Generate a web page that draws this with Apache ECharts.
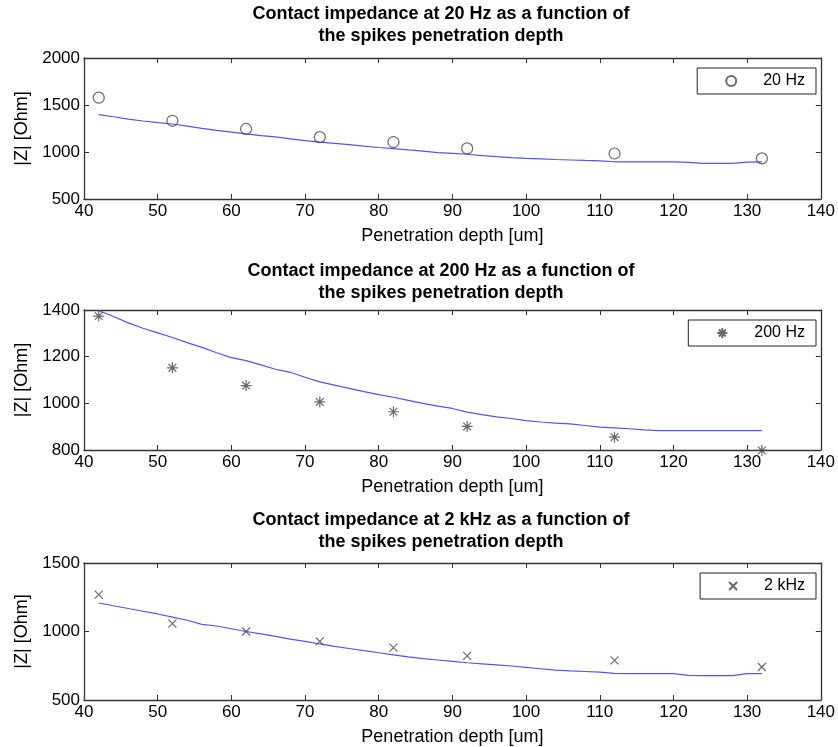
<!DOCTYPE html>
<html>
<head>
<meta charset="utf-8">
<script src="https://cdn.jsdelivr.net/npm/echarts@6/dist/echarts.min.js"></script>
<style>
html, body { margin: 0; padding: 0; background: #fff; }
#main { width: 838px; height: 747px; }
</style>
</head>
<body>
<div id="main"></div>
<script>
// measured depths (markers)
var depth = [42, 52, 62, 72, 82, 92, 112, 132];
var meas20 = [1578, 1332, 1245, 1158, 1106, 1038, 984, 932];
var meas200 = [1374, 1152, 1076, 1006, 964, 901, 855, 798];
var meas2k = [1269, 1057, 1000, 928, 882, 822, 789, 741];

// model curves (blue lines), read every 2 um
var fitDepth = [42, 44, 46, 48, 50, 52, 54, 56, 58, 60, 62, 64, 66, 68, 70, 72, 74, 76, 78, 80, 82, 84, 86, 88, 90,
  92, 94, 96, 98, 100, 102, 104, 106, 108, 110, 112, 114, 116, 118, 120, 122, 124, 126, 128, 130, 132];
var fit20 = [1398, 1375, 1350, 1330, 1312, 1298, 1275, 1252, 1230, 1212, 1193, 1175, 1160, 1140, 1122, 1105, 1092, 1078,
  1062, 1048, 1035, 1022, 1010, 994, 985, 976, 962, 950, 940, 932, 926, 920, 915, 910, 906, 896, 895, 895, 895, 895,
  890, 878, 878, 878, 893, 895];
var fit200 = [1398, 1372, 1345, 1322, 1302, 1282, 1260, 1240, 1217, 1196, 1183, 1165, 1146, 1133, 1112, 1092, 1078, 1064,
  1050, 1037, 1026, 1013, 1000, 988, 978, 962, 952, 942, 935, 926, 920, 915, 912, 905, 898, 895, 891, 886, 883, 883,
  883, 883, 883, 883, 883, 883];
var fit2k = [1208, 1188, 1168, 1148, 1128, 1105, 1082, 1052, 1040, 1020, 1000, 982, 964, 945, 928, 909, 892, 876,
  860, 845, 830, 815, 802, 792, 782, 772, 764, 756, 748, 738, 728, 718, 712, 708, 703, 695, 693, 693, 693, 693,
  680, 678, 678, 678, 692, 693];

var titles = [
  'Contact impedance at 20 Hz as a function of\nthe spikes penetration depth',
  'Contact impedance at 200 Hz as a function of\nthe spikes penetration depth',
  'Contact impedance at 2 kHz as a function of\nthe spikes penetration depth'
];
var names = ['20 Hz', '200 Hz', '2 kHz'];
var yMin = [500, 800, 500];
var yMax = [2000, 1400, 1500];
var yStep = [500, 200, 500];

var FONT = '"Liberation Sans", Arial, sans-serif';
var AXC = '#333';

var tops = [58, 310, 563];
var hts = [141, 140, 139];
var titleTops = [-2, 255, 504];

var symbols = [
  'circle',
  'path://M0,-10L0,10M-10,0L10,0M-7,-7L7,7M-7,7L7,-7',
  'path://M-10,-10L10,10M-10,10L10,-10'
];
var symSizes = [11, 11, 8];
var legSizes = [10, 10, 8];
var measData = [meas20, meas200, meas2k];
var fitData = [fit20, fit200, fit2k];

function pairs(xs, ys) {
  return xs.map(function (x, i) { return [x, ys[i]]; });
}

var option = {
  animation: false,
  backgroundColor: '#fff',
  title: [], grid: [], xAxis: [], yAxis: [], legend: [], series: []
};

for (var k = 0; k < 3; k++) {
  option.title.push({
    text: titles[k], left: 436, top: titleTops[k], textAlign: 'center',
    textStyle: { fontFamily: FONT, fontSize: 18, fontWeight: 'bold', color: '#000', lineHeight: 22 }
  });
  option.grid.push({ left: 84, right: 16, top: tops[k], height: hts[k] });

  var tickStyle = { inside: true, length: 5, lineStyle: { color: AXC } };
  var lineStyle = { lineStyle: { color: AXC, width: 1.3 } };
  option.xAxis.push({
    type: 'value', gridIndex: k, min: 40, max: 140, interval: 10,
    axisLine: lineStyle, axisTick: tickStyle, splitLine: { show: false },
    axisLabel: { color: '#000', fontSize: 17, fontFamily: FONT, margin: 4 },
    name: 'Penetration depth [um]', nameLocation: 'middle', nameGap: 28,
    nameTextStyle: { color: '#000', fontSize: 18, fontFamily: FONT }
  });
  option.xAxis.push({
    type: 'value', gridIndex: k, position: 'top', min: 40, max: 140, interval: 10,
    axisLine: lineStyle, axisTick: tickStyle, splitLine: { show: false }, axisLabel: { show: false }
  });
  option.yAxis.push({
    type: 'value', gridIndex: k, min: yMin[k], max: yMax[k], interval: yStep[k],
    axisLine: lineStyle, axisTick: tickStyle, splitLine: { show: false },
    axisLabel: { color: '#000', fontSize: 17, fontFamily: FONT, margin: 4, formatter: function (v) { return String(v); } },
    name: '|Z| [Ohm]', nameLocation: 'middle', nameGap: 50,
    nameTextStyle: { color: '#000', fontSize: 18, fontFamily: FONT }
  });
  option.yAxis.push({
    type: 'value', gridIndex: k, position: 'right', min: yMin[k], max: yMax[k], interval: yStep[k],
    axisLine: lineStyle, axisTick: tickStyle, splitLine: { show: false }, axisLabel: { show: false }
  });

  option.legend.push({
    data: [names[k]], right: 22, top: tops[k] + 10,
    padding: [5, 11, 5, 28], itemWidth: legSizes[k], itemHeight: legSizes[k],
    borderColor: '#222', borderWidth: 1, backgroundColor: '#fff', borderRadius: 0,
    textStyle: { color: '#000', fontSize: 16, fontFamily: FONT, padding: [0, 0, 0, 22] }
  });

  option.series.push({
    name: names[k], type: 'scatter', xAxisIndex: 2 * k, yAxisIndex: 2 * k,
    symbol: symbols[k], symbolSize: symSizes[k], clip: false, z: 3,
    itemStyle: { color: 'rgba(0,0,0,0)', borderColor: '#444', borderWidth: 1.2 },
    data: pairs(depth, measData[k])
  });
  option.series.push({
    name: 'fit' + k, type: 'line', xAxisIndex: 2 * k, yAxisIndex: 2 * k,
    showSymbol: false, symbol: 'none', z: 2,
    lineStyle: { color: '#5252f8', width: 1.2 },
    data: pairs(fitDepth, fitData[k])
  });
}

var chart = echarts.init(document.getElementById('main'));
chart.setOption(option);
</script>
</body>
</html>
